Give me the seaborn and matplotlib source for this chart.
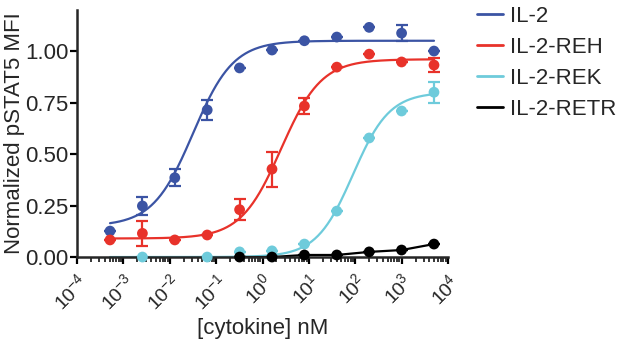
import numpy as np
import pandas as pd
import matplotlib
matplotlib.use("Agg")
import matplotlib.pyplot as plt
from matplotlib.lines import Line2D
from matplotlib.ticker import LogLocator, NullFormatter
import seaborn as sns

# dose series (nM), 5-fold dilutions
conc = [0.000512, 0.00256, 0.0128, 0.064, 0.32, 1.6, 8, 40, 200, 1000, 5000]

il2 = [0.126, 0.248, 0.385, 0.714, 0.918, 1.005, 1.05, 1.068, 1.115, 1.087, 1.0]
il2_err = [0, 0.045, 0.04, 0.05, 0, 0, 0, 0, 0, 0.04, 0]

reh = [0.083, 0.115, 0.083, 0.107, 0.23, 0.427, 0.733, 0.922, 0.985, 0.947, 0.932]
reh_err = [0, 0.06, 0, 0, 0.05, 0.085, 0.04, 0, 0, 0, 0.035]

rek = [np.nan, 0.0, np.nan, 0.0, 0.025, 0.03, 0.063, 0.223, 0.578, 0.709, 0.80]
rek_err = [0, 0, 0, 0, 0, 0, 0, 0, 0, 0, 0.05]

retr = [np.nan, np.nan, np.nan, np.nan, 0.0, 0.0, 0.01, 0.01, 0.025, 0.034, 0.063]

labels = ["IL-2", "IL-2-REH", "IL-2-REK", "IL-2-RETR"]
colors = ["#3b54a4", "#e8322a", "#6ecbdb", "#000000"]

# 4PL fit params: bottom, top, logEC50, hill
fit_bottom = [0.15, 0.09, 0.0]
fit_top = [1.05, 0.96, 0.80]
fit_logec50 = [-1.5, 0.4, 1.95]
fit_hill = [1.0, 1.0, 1.1]

sns.set_style("ticks")
plt.rcParams["font.family"] = ["Liberation Sans", "DejaVu Sans"]
plt.rcParams["mathtext.fontset"] = "custom"
plt.rcParams["mathtext.rm"] = "Liberation Sans"
plt.rcParams["mathtext.it"] = "Liberation Sans:italic"

fig = plt.figure(figsize=(6.17, 3.4), dpi=100)
ax = fig.add_axes([0.125, 0.244, 0.601, 0.727])

series = [il2, reh, rek, retr]
errs = [il2_err, reh_err, rek_err, [0] * len(conc)]

xs = np.logspace(np.log10(conc[0]), np.log10(conc[-1]), 300)
for i in range(3):
    fit = fit_bottom[i] + (fit_top[i] - fit_bottom[i]) / (
        1 + 10 ** ((fit_logec50[i] - np.log10(xs)) * fit_hill[i]))
    sns.lineplot(x=xs, y=fit, color=colors[i], linewidth=1.6, ax=ax)

# RETR has no fit, points joined directly
df_retr = pd.DataFrame({"conc": conc, "y": retr}).dropna()
sns.lineplot(data=df_retr, x="conc", y="y", color=colors[3], linewidth=1.6, ax=ax)

for i, (ys, er) in enumerate(zip(series, errs)):
    df = pd.DataFrame({"conc": conc, "y": ys, "err": er}).dropna()
    ax.errorbar(df.conc, df.y, yerr=df.err, fmt="none", ecolor=colors[i],
                elinewidth=1.6, capsize=4, capthick=1.6, clip_on=False)
    sns.scatterplot(data=df, x="conc", y="y", color=colors[i], s=60,
                    edgecolor="none", ax=ax, clip_on=False, zorder=5)

ax.set_xscale("log")
ax.set_xlim(1e-4, 1e4)
ax.set_ylim(0, 1.2)
ax.set_yticks([0, 0.25, 0.5, 0.75, 1.0])
ax.set_yticklabels(["0.00", "0.25", "0.50", "0.75", "1.00"])
ax.xaxis.set_major_locator(LogLocator(base=10, numticks=20))
ax.xaxis.set_minor_locator(LogLocator(base=10, subs=np.arange(2, 10), numticks=20))
ax.xaxis.set_minor_formatter(NullFormatter())

ax.tick_params(axis="both", which="major", direction="out", length=5, width=1.6,
               color="black", pad=1)
ax.tick_params(axis="y", labelsize=16)
ax.tick_params(axis="x", labelsize=14, pad=5)
ax.tick_params(axis="x", which="minor", direction="out", length=3.5, width=1.3)
for lab in ax.get_xticklabels():
    lab.set_rotation(45)
    lab.set_ha("right")
    lab.set_rotation_mode("anchor")

for sp in ["left", "bottom"]:
    ax.spines[sp].set_linewidth(1.8)
sns.despine(ax=ax)

ax.set_xlabel("[cytokine] nM", fontsize=16)
ax.xaxis.set_label_coords(0.5, -0.245)
ax.set_ylabel("Normalized pSTAT5 MFI", fontsize=16, labelpad=0)

handles = [Line2D([0], [0], color=c, linewidth=2) for c in colors]
fig.legend(handles, labels, loc="upper left", bbox_to_anchor=(0.740, 1.041),
           frameon=False, fontsize=16, handlelength=1.17, handletextpad=0.32,
           labelspacing=0.45)

fig.savefig("out.png", dpi=100)
